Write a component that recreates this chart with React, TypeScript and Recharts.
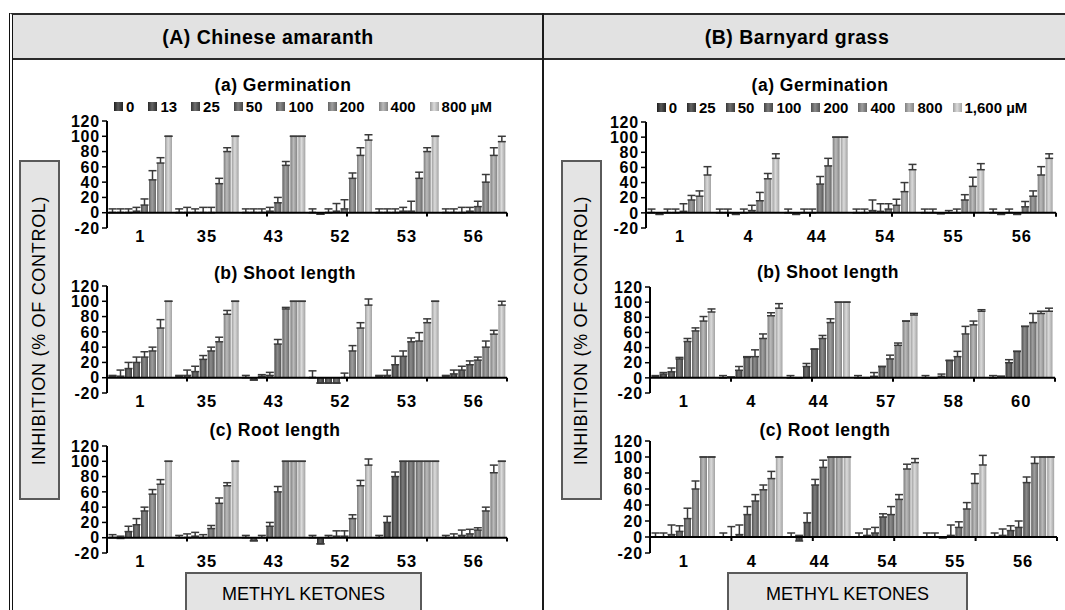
import React from "react";
import { BarChart, Bar, XAxis, YAxis, ErrorBar, ReferenceLine } from "recharts";

const FONT = "'Liberation Sans', Arial, Helvetica, sans-serif";

// concentrations (legend labels)
const amaranthConc = ["0", "13", "25", "50", "100", "200", "400", "800 µM"];
const grassConc = ["0", "25", "50", "100", "200", "400", "800", "1,600 µM"];

// methyl ketone numbers on the x axes
const amaranthGermKetones = ["1", "35", "43", "52", "53", "56"];
const amaranthShootKetones = ["1", "35", "43", "52", "53", "56"];
const amaranthRootKetones = ["1", "35", "43", "52", "53", "56"];
const grassGermKetones = ["1", "4", "44", "54", "55", "56"];
const grassShootKetones = ["1", "4", "44", "57", "58", "60"];
const grassRootKetones = ["1", "4", "44", "54", "55", "56"];

// inhibition (% of control), one row per ketone, one value per concentration
const amaranthGerm = [
  [0, 0, 0, 2, 10, 43, 65, 100],
  [0, 0, 0, 0, 0, 38, 80, 100],
  [0, 0, 0, 2, 13, 62, 100, 100],
  [0, -2, 0, 2, 5, 45, 75, 95],
  [0, 0, 0, 2, 2, 45, 80, 100],
  [0, 0, 0, 2, 8, 40, 75, 93],
];
const amaranthGermErr = [
  [5, 5, 5, 5, 8, 12, 7, 0],
  [5, 7, 5, 7, 7, 7, 5, 0],
  [5, 5, 5, 5, 7, 5, 0, 0],
  [5, 0, 5, 10, 12, 7, 10, 7],
  [5, 5, 5, 5, 13, 8, 5, 0],
  [5, 5, 7, 5, 7, 10, 10, 7],
];
const amaranthShoot = [
  [2, 2, 12, 20, 27, 35, 65, 100],
  [2, 3, 8, 24, 35, 47, 83, 100],
  [0, -3, 2, 3, 44, 90, 100, 100],
  [0, -7, -7, -7, 0, 35, 65, 95],
  [2, 3, 17, 28, 47, 48, 72, 100],
  [2, 5, 10, 17, 23, 40, 57, 95],
];
const amaranthShootErr = [
  [1, 8, 8, 7, 7, 5, 11, 0],
  [1, 7, 7, 5, 5, 6, 5, 0],
  [3, 0, 2, 4, 6, 2, 0, 0],
  [9, 0, 0, 0, 6, 7, 7, 8],
  [1, 7, 11, 7, 5, 11, 5, 0],
  [1, 5, 5, 5, 4, 8, 5, 5],
];
const amaranthRoot = [
  [0, -1, 8, 17, 35, 57, 70, 100],
  [0, 0, 2, 0, 12, 45, 68, 100],
  [0, -4, 0, 15, 60, 100, 100, 100],
  [0, -8, 0, 2, 2, 25, 68, 95],
  [0, 20, 80, 100, 100, 100, 100, 100],
  [0, 0, 3, 5, 10, 35, 85, 100],
];
const amaranthRootErr = [
  [4, 3, 7, 8, 5, 6, 6, 0],
  [3, 5, 5, 4, 4, 7, 4, 0],
  [3, 0, 3, 5, 7, 0, 0, 0],
  [3, 0, 3, 7, 7, 5, 7, 8],
  [3, 8, 6, 0, 0, 0, 0, 0],
  [3, 5, 7, 6, 3, 5, 10, 0],
];
const grassGerm = [
  [0, -2, 0, 0, 2, 17, 22, 50],
  [0, 0, -2, 0, 3, 16, 45, 72],
  [0, -2, 0, 0, 38, 62, 100, 100],
  [0, 0, 3, 2, 5, 10, 28, 57],
  [0, 0, -1, 0, 0, 17, 35, 57],
  [0, -2, 0, -2, 8, 22, 50, 72],
];
const grassGermErr = [
  [5, 0, 5, 5, 10, 6, 7, 11],
  [5, 5, 0, 5, 7, 11, 7, 6],
  [5, 0, 5, 5, 10, 10, 0, 0],
  [5, 5, 14, 10, 7, 8, 12, 7],
  [5, 5, 0, 3, 5, 7, 12, 8],
  [5, 0, 5, 0, 7, 7, 11, 6],
];
const grassShoot = [
  [2, 5, 8, 25, 48, 62, 75, 87],
  [0, 1, 10, 27, 28, 52, 82, 92],
  [0, 0, 15, 38, 52, 73, 100, 100],
  [0, 0, 2, 15, 25, 43, 75, 83],
  [0, 0, 2, 23, 28, 58, 70, 88],
  [0, 2, 20, 35, 68, 73, 85, 88],
];
const grassShootErr = [
  [1, 2, 5, 2, 4, 4, 6, 4],
  [3, 0, 5, 1, 9, 6, 4, 6],
  [3, 0, 4, 0, 4, 5, 0, 0],
  [3, 0, 5, 0, 5, 3, 0, 2],
  [3, 0, 3, 0, 7, 10, 5, 2],
  [3, 0, 4, 0, 0, 12, 3, 4],
];
const grassRoot = [
  [0, 0, 3, 7, 23, 60, 100, 100],
  [0, 0, 3, 28, 45, 59, 73, 100],
  [0, -5, 18, 65, 87, 100, 100, 100],
  [0, 2, 5, 25, 28, 47, 85, 93],
  [0, 0, -1, 2, 12, 35, 67, 90],
  [0, 2, 8, 12, 68, 92, 100, 100],
];
const grassRootErr = [
  [5, 5, 12, 7, 13, 10, 0, 0],
  [5, 13, 12, 10, 8, 6, 9, 0],
  [5, 7, 12, 7, 9, 0, 0, 0],
  [5, 8, 7, 4, 10, 6, 6, 5],
  [5, 5, 0, 13, 7, 8, 12, 12],
  [5, 8, 6, 8, 7, 8, 0, 0],
];

const yTicks = [-20, 0, 20, 40, 60, 80, 100, 120];
const boundaries = [1, 2, 3, 4, 5, 6];

// one grey per concentration, dark -> light
const shades = ["#363636", "#424242", "#4e4e4e", "#5a5a5a", "#686868", "#7c7c7c", "#979797", "#b7b7b7"];

const shift = (hex: string, amt: number) => {
  const v = Math.max(0, Math.min(255, parseInt(hex.slice(1, 3), 16) + amt));
  const h = v.toString(16).padStart(2, "0");
  return `#${h}${h}${h}`;
};

type PanelProps = {
  id: string;
  plotLeft: number;
  plotTop: number;
  plotWidth: number;
  plotHeight: number;
  names: string[];
  values: number[][];
  errors: number[][];
};

const Panel = ({ id, plotLeft, plotTop, plotWidth, plotHeight, names, values, errors }: PanelProps) => {
  const data = names.map((name, i) => {
    const row: Record<string, any> = { name };
    values[i].forEach((v, j) => {
      row[`s${j}`] = v;
      row[`e${j}`] = [0, errors[i][j]];
    });
    return row;
  });
  const yw = 60;
  const mt = 8;
  const mr = 6;
  const xh = 22;
  return (
    <div style={{ position: "absolute", left: plotLeft - yw, top: plotTop - mt }}>
      <BarChart
        width={yw + plotWidth + mr}
        height={mt + plotHeight + xh}
        data={data}
        margin={{ top: mt, right: mr, left: 0, bottom: 0 }}
        barCategoryGap={2}
        barGap={1}
      >
        <defs>
          {shades.map((c, j) => (
            <linearGradient key={j} id={`${id}-g${j}`} x1="0" y1="0" x2="1" y2="0">
              <stop offset="0%" stopColor={shift(c, -25)} />
              <stop offset="45%" stopColor={shift(c, 35)} />
              <stop offset="100%" stopColor={shift(c, -20)} />
            </linearGradient>
          ))}
        </defs>
        <XAxis
          dataKey="name"
          axisLine={false}
          tickLine={false}
          tickSize={0}
          height={xh}
          interval={0}
          tick={{ fill: "#000", fontSize: 16.5, fontWeight: 700, fontFamily: FONT, letterSpacing: 1 }}
        />
        <XAxis xAxisId="n" type="number" domain={[0, 6]} hide />
        <YAxis
          width={yw}
          domain={[-20, 120]}
          ticks={yTicks}
          interval={0}
          axisLine={{ stroke: "#000", strokeWidth: 2 }}
          tickLine={{ stroke: "#000", strokeWidth: 1.5 }}
          tickSize={5}
          tickMargin={2}
          tick={{ fill: "#000", fontSize: 16, fontWeight: 700, fontFamily: FONT, letterSpacing: 0.8 }}
        />
        {shades.map((_, j) => (
          <Bar
            key={j}
            dataKey={`s${j}`}
            fill={`url(#${id}-g${j})`}
            minPointSize={1}
            isAnimationActive={false}
          >
            <ErrorBar
              dataKey={`e${j}`}
              direction="y"
              width={4}
              stroke="#3a3a3a"
              strokeWidth={1.5}
              isAnimationActive={false}
            />
          </Bar>
        ))}
        <ReferenceLine y={0} stroke="#000" strokeWidth={2} />
        {boundaries.map((k) => (
          <ReferenceLine
            key={k}
            xAxisId="n"
            segment={[
              { x: k, y: 0 },
              { x: k, y: -5 },
            ]}
            stroke="#000"
            strokeWidth={2}
          />
        ))}
      </BarChart>
    </div>
  );
};

const Legend = ({ items, center, y, gap }: { items: string[]; center: number; y: number; gap: number }) => (
  <div
    style={{
      position: "absolute",
      left: center - 260,
      width: 520,
      top: y - 10,
      height: 20,
      display: "flex",
      justifyContent: "center",
      alignItems: "center",
      gap,
      fontFamily: FONT,
      fontWeight: 700,
      fontSize: 15,
      whiteSpace: "nowrap",
      color: "#000",
    }}
  >
    {items.map((t, j) => (
      <div key={t} style={{ display: "flex", alignItems: "center", gap: 3 }}>
        <span
          style={{
            width: 9,
            height: 9,
            display: "inline-block",
            background: `linear-gradient(90deg, ${shift(shades[j], -25)}, ${shift(shades[j], 35)} 45%, ${shift(shades[j], -20)})`,
          }}
        />
        <span>{t}</span>
      </div>
    ))}
  </div>
);

const Text = ({ x, y, children, size, bold = true, spacing = 0 }: any) => (
  <div
    style={{
      position: "absolute",
      left: x - 200,
      width: 400,
      top: y - 12,
      height: 24,
      lineHeight: "24px",
      textAlign: "center",
      fontFamily: FONT,
      fontWeight: bold ? 700 : 400,
      fontSize: size,
      letterSpacing: spacing,
      color: "#000",
      whiteSpace: "nowrap",
    }}
  >
    {children}
  </div>
);

const boxStyle: React.CSSProperties = {
  position: "absolute",
  background: "#e4e4e4",
  border: "2px solid #5a5a5a",
  boxSizing: "border-box",
  display: "flex",
  alignItems: "center",
  justifyContent: "center",
  fontFamily: FONT,
  fontSize: 18,
  color: "#000",
  whiteSpace: "nowrap",
};

const YLabel = ({ left }: { left: number }) => (
  <div style={{ ...boxStyle, left, top: 160, width: 41, height: 340 }}>
    <span style={{ transform: "rotate(-90deg)", letterSpacing: 0.7 }}>INHIBITION (% OF CONTROL)</span>
  </div>
);

const XLabel = ({ left, width }: { left: number; width: number }) => (
  <div style={{ ...boxStyle, left, top: 572, width, height: 48, alignItems: "flex-start", paddingTop: 10 }}>
    METHYL KETONES
  </div>
);

export default function App() {
  return (
    <div
      style={{
        position: "absolute",
        left: 0,
        top: 0,
        width: 1065,
        height: 610,
        overflow: "hidden",
        background: "#fff",
      }}
    >
      {/* frame */}
      <div
        style={{
          position: "absolute",
          left: 9,
          top: 13,
          width: 1080,
          height: 640,
          borderTop: "2px solid #2a2a2a",
          borderLeft: "4px double #111",
        }}
      />
      <div
        style={{
          position: "absolute",
          left: 13,
          top: 15,
          width: 1070,
          height: 43,
          background: "#e2e2e2",
          borderBottom: "2px solid #2a2a2a",
        }}
      />
      <div style={{ position: "absolute", left: 542, top: 13, width: 2, height: 620, background: "#1a1a1a" }} />

      <Text x={268} y={37} size={19.5} spacing={0.5}>
        (A) Chinese amaranth
      </Text>
      <Text x={797} y={37} size={19.5} spacing={0.5}>
        (B) Barnyard grass
      </Text>

      <YLabel left={19} />
      <YLabel left={561} />
      <XLabel left={185} width={237} />
      <XLabel left={727} width={241} />

      <Text x={283} y={85} size={17.5} spacing={0.5}>
        (a) Germination
      </Text>
      <Text x={285} y={273} size={17.5} spacing={0.5}>
        (b) Shoot length
      </Text>
      <Text x={275} y={430} size={17.5} spacing={0.5}>
        (c) Root length
      </Text>
      <Text x={820} y={85} size={17.5} spacing={0.5}>
        (a) Germination
      </Text>
      <Text x={828} y={272} size={17.5} spacing={0.5}>
        (b) Shoot length
      </Text>
      <Text x={825} y={430} size={17.5} spacing={0.5}>
        (c) Root length
      </Text>

      <Legend items={amaranthConc} center={303} y={106} gap={14} />
      <Legend items={grassConc} center={842} y={107} gap={10} />

      <Panel
        id="aa"
        plotLeft={107}
        plotTop={121}
        plotWidth={400}
        plotHeight={107}
        names={amaranthGermKetones}
        values={amaranthGerm}
        errors={amaranthGermErr}
      />
      <Panel
        id="ab"
        plotLeft={107}
        plotTop={286}
        plotWidth={400}
        plotHeight={107}
        names={amaranthShootKetones}
        values={amaranthShoot}
        errors={amaranthShootErr}
      />
      <Panel
        id="ac"
        plotLeft={107}
        plotTop={446}
        plotWidth={400}
        plotHeight={107}
        names={amaranthRootKetones}
        values={amaranthRoot}
        errors={amaranthRootErr}
      />
      <Panel
        id="ba"
        plotLeft={646}
        plotTop={122}
        plotWidth={410}
        plotHeight={106}
        names={grassGermKetones}
        values={grassGerm}
        errors={grassGermErr}
      />
      <Panel
        id="bb"
        plotLeft={650}
        plotTop={287}
        plotWidth={405}
        plotHeight={106}
        names={grassShootKetones}
        values={grassShoot}
        errors={grassShootErr}
      />
      <Panel
        id="bc"
        plotLeft={650}
        plotTop={441}
        plotWidth={407}
        plotHeight={112}
        names={grassRootKetones}
        values={grassRoot}
        errors={grassRootErr}
      />
    </div>
  );
}
